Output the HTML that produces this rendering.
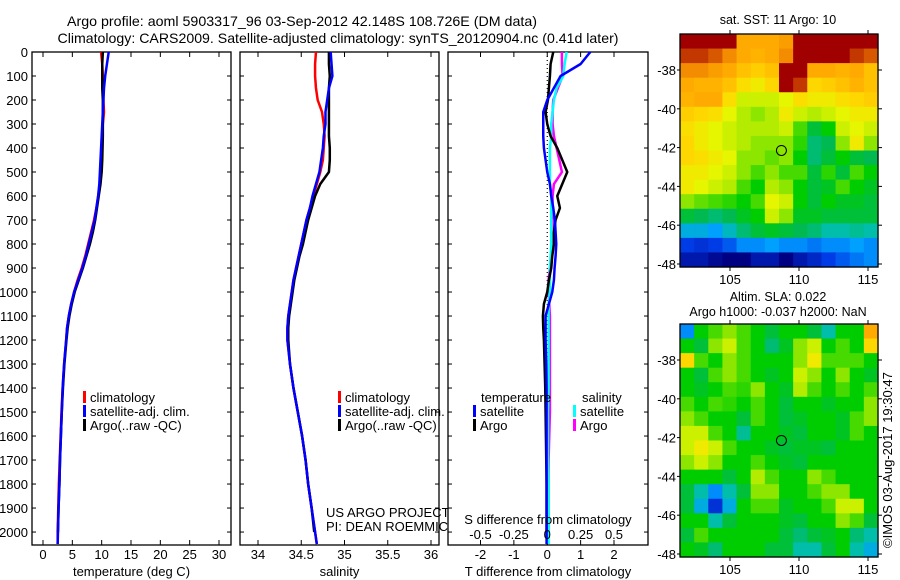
<!DOCTYPE html>
<html><head><meta charset="utf-8"><style>
html,body{margin:0;padding:0;background:#fff;}
svg{display:block;font-family:"Liberation Sans",sans-serif;}
text{font-size:13px;fill:#000;}
</style></head><body>
<svg id="fig" width="900" height="580" viewBox="0 0 900 580" xmlns="http://www.w3.org/2000/svg">
<text x="302" y="26" text-anchor="middle" style="font-size:14px" textLength="470" lengthAdjust="spacingAndGlyphs">Argo profile: aoml 5903317_96 03-Sep-2012 42.148S 108.726E (DM data)</text>
<text x="338" y="43" text-anchor="middle" style="font-size:14px" textLength="561" lengthAdjust="spacingAndGlyphs">Climatology: CARS2009. Satellite-adjusted climatology: synTS_20120904.nc (0.41d later)</text>
<g id="plots"></g>
<text transform="translate(892,548) rotate(-90)" style="font-size:13px">©IMOS 03-Aug-2017 19:30:47</text>
</svg>
<script>
// ---------- data ----------
const depths = [0,50,100,150,200,250,300,350,400,450,500,550,600,650,700,750,800,850,900,950,1000,1050,1100,1150,1200,1300,1400,1500,1600,1700,1800,1900,2000,2050];
const tempClim = [9.9,10.1,10.2,10.2,10.3,10.4,10.2,10.1,10.1,10.0,9.9,9.7,9.4,9.1,8.7,8.2,7.7,7.2,6.6,5.9,5.3,4.8,4.4,4.1,3.95,3.6,3.35,3.15,3.0,2.85,2.7,2.6,2.5,2.5];
const tempSat = [11.2,10.9,10.6,10.4,10.3,10.2,10.1,10.0,9.9,9.8,9.7,9.6,9.4,9.1,8.8,8.3,7.8,7.3,6.7,6.0,5.3,4.8,4.4,4.1,3.95,3.6,3.35,3.2,3.05,2.9,2.8,2.65,2.55,2.5];
const tempArgo = [10.2,10.1,10.1,10.1,10.2,10.2,10.2,10.2,10.15,10.1,10.0,9.8,9.5,9.2,8.9,8.5,8.0,7.4,6.8,6.1,5.4,4.9,4.5,4.2,4.0,3.65,3.4,3.2,3.05,2.9,2.8,2.65,2.55];
const salClim = [34.67,34.66,34.66,34.67,34.69,34.74,34.76,34.77,34.76,34.75,34.72,34.68,34.64,34.6,34.56,34.53,34.5,34.47,34.44,34.41,34.39,34.37,34.35,34.34,34.34,34.37,34.41,34.46,34.51,34.55,34.58,34.62,34.66,34.68];
const salSat = [34.84,34.85,34.86,34.82,34.8,34.78,34.78,34.76,34.75,34.73,34.71,34.67,34.63,34.6,34.56,34.53,34.5,34.47,34.44,34.41,34.39,34.37,34.35,34.34,34.34,34.37,34.41,34.46,34.51,34.55,34.58,34.62,34.66,34.68];
const salArgo = [34.82,34.82,34.83,34.82,34.82,34.82,34.82,34.82,34.83,34.83,34.82,34.72,34.66,34.62,34.58,34.55,34.52,34.48,34.45,34.42,34.40,34.38,34.36,34.35,34.35,34.37,34.41,34.46,34.51,34.55,34.58,34.62,34.65];
const tDiffSat = [1.29,1.0,0.4,0.2,0.0,-0.12,-0.12,-0.12,-0.1,-0.05,0.0,0.08,0.12,0.18,0.23,0.25,0.27,0.25,0.22,0.2,0.15,0.05,-0.05,-0.05,-0.05,-0.03,-0.02,-0.02,-0.02,-0.02,-0.02,-0.02,-0.02,-0.02];
const tDiffArgo = [0.18,0.1,0.08,0.05,0.02,-0.05,0.0,0.1,0.3,0.45,0.6,0.45,0.3,0.38,0.25,0.2,0.2,0.15,0.12,0.05,0.0,-0.1,-0.13,-0.12,-0.1,-0.08,-0.06,-0.05,-0.04,-0.03,-0.02,-0.02,-0.02];
const sDiffArgo = [0.11,0.11,0.115,0.08,0.045,0.04,0.04,0.05,0.07,0.09,0.11,0.05,0.04,0.04,0.05,0.05,0.04,0.03,0.02,0.01,0.01,0.015,0.02,0.02,0.02,0.02,0.02,0.02,0.015,0.01,0.01,0.01,0.01];
const sDiffSat = [0.145,0.13,0.12,0.07,0.05,0.04,0.03,0.03,0.02,0.02,0.02,0.02,0.03,0.03,0.03,0.03,0.03,0.025,0.02,0.02,0.02,0.01,0.01,0.01,0.01,0.01,0.01,0.005,0.005,0.005,0.01,0.01,0.01,0.01];
const depthTicks = [0,100,200,300,400,500,600,700,800,900,1000,1100,1200,1300,1400,1500,1600,1700,1800,1900,2000];
const tempTicks = [0,5,10,15,20,25,30];
const salTicks = [34,34.5,35,35.5,36];
const tDiffTicks = [-2,-1,0,1,2];
const sDiffTicks = [-0.5,-0.25,0,0.25,0.5];
const sDiffTickLabels = ["-0.5","-0.25","0","0.25","0.5"];
const lonTicks = [105,110,115];
const latTicks = [-38,-40,-42,-44,-46,-48];
const argoLon = 108.726, argoLat = -42.148;
const sstGrid = [
[1,1,1,1,0.8,0.8,0.8,0.82,1,1,1,1,1,1],
[0.95,0.95,0.92,0.85,0.8,0.78,0.8,0.85,1,1,1,1,0.95,0.92],
[0.85,0.85,0.82,0.8,0.75,0.72,0.75,1,1,0.8,0.8,0.78,0.8,0.75],
[0.8,0.78,0.78,0.75,0.68,0.65,0.7,1,0.95,0.7,0.72,0.75,0.78,0.75],
[0.78,0.8,0.8,0.68,0.6,0.6,0.6,0.62,0.68,0.65,0.65,0.68,0.7,0.72],
[0.72,0.7,0.68,0.62,0.58,0.55,0.58,0.65,0.6,0.58,0.6,0.62,0.65,0.65],
[0.68,0.65,0.62,0.6,0.58,0.58,0.58,0.6,0.5,0.4,0.45,0.6,0.62,0.6],
[0.7,0.65,0.62,0.6,0.58,0.55,0.55,0.55,0.48,0.35,0.38,0.55,0.65,0.55],
[0.7,0.68,0.65,0.62,0.55,0.55,0.52,0.55,0.45,0.35,0.4,0.45,0.4,0.38],
[0.65,0.65,0.62,0.6,0.55,0.5,0.55,0.5,0.5,0.4,0.48,0.4,0.5,0.45],
[0.65,0.62,0.6,0.58,0.5,0.45,0.58,0.55,0.45,0.4,0.42,0.5,0.45,0.42],
[0.55,0.52,0.5,0.48,0.45,0.5,0.62,0.6,0.45,0.4,0.45,0.42,0.42,0.4],
[0.4,0.38,0.35,0.38,0.42,0.45,0.6,0.55,0.42,0.42,0.4,0.4,0.4,0.4],
[0.25,0.25,0.22,0.28,0.35,0.4,0.42,0.4,0.38,0.35,0.3,0.3,0.32,0.3],
[0.12,0.1,0.12,0.15,0.2,0.2,0.22,0.2,0.2,0.18,0.2,0.2,0.22,0.2],
[0.05,0.05,0.02,0.0,0.0,0.05,0.05,0.0,0.05,0.08,0.12,0.15,0.18,0.2]];
const slaGrid = [
[0.2,0.45,0.5,0.55,0.5,0.45,0.4,0.45,0.45,0.4,0.3,0.45,0.45,0.8],
[0.45,0.4,0.55,0.6,0.5,0.45,0.35,0.42,0.55,0.6,0.45,0.5,0.45,0.7],
[0.7,0.5,0.45,0.55,0.5,0.45,0.45,0.45,0.55,0.65,0.5,0.5,0.5,0.45],
[0.45,0.4,0.5,0.55,0.5,0.45,0.42,0.45,0.6,0.55,0.45,0.55,0.45,0.42],
[0.45,0.42,0.45,0.5,0.48,0.55,0.45,0.42,0.58,0.5,0.45,0.5,0.45,0.5],
[0.5,0.45,0.5,0.48,0.45,0.5,0.45,0.4,0.45,0.45,0.42,0.45,0.45,0.55],
[0.55,0.5,0.45,0.45,0.4,0.5,0.45,0.4,0.42,0.45,0.45,0.42,0.5,0.55],
[0.6,0.6,0.5,0.45,0.32,0.45,0.45,0.42,0.4,0.45,0.45,0.42,0.5,0.45],
[0.6,0.65,0.6,0.5,0.45,0.45,0.42,0.4,0.42,0.42,0.4,0.45,0.45,0.45],
[0.55,0.6,0.55,0.45,0.45,0.5,0.45,0.42,0.4,0.45,0.45,0.45,0.45,0.45],
[0.45,0.45,0.45,0.4,0.45,0.58,0.5,0.45,0.45,0.55,0.5,0.45,0.45,0.45],
[0.4,0.3,0.2,0.3,0.4,0.55,0.55,0.45,0.45,0.5,0.55,0.55,0.45,0.45],
[0.4,0.25,0.1,0.25,0.45,0.5,0.5,0.42,0.45,0.45,0.5,0.6,0.6,0.45],
[0.45,0.45,0.3,0.4,0.45,0.45,0.45,0.42,0.4,0.45,0.45,0.55,0.5,0.4],
[0.4,0.5,0.45,0.45,0.45,0.45,0.45,0.4,0.35,0.4,0.42,0.45,0.35,0.3],
[0.45,0.42,0.35,0.45,0.45,0.45,0.4,0.4,0.3,0.3,0.4,0.45,0.3,0.25]];
const cmapStops = [0,0.12,0.22,0.3,0.38,0.45,0.55,0.62,0.7,0.8,0.9,1.0];
const cmapColors = [[0,0,130],[0,60,230],[0,160,255],[0,190,170],[0,185,80],[0,205,0],[140,230,0],[230,245,0],[255,215,0],[255,170,0],[230,110,0],[160,0,0]];

// ---------- helpers ----------
const NS = "http://www.w3.org/2000/svg";
const root = document.getElementById('plots');
function mk(tag, attrs, parent){ const e=document.createElementNS(NS,tag); for(const k in attrs) e.setAttribute(k,attrs[k]); (parent||root).appendChild(e); return e; }
function txt(x,y,s,anchor,parent,size){ const t=mk('text',{x:x,y:y,'text-anchor':anchor||'start'},parent); if(size) t.style.fontSize=size+'px'; t.textContent=s; return t; }
const PT=52, PB=545;
const yD = d => PT + (d/2054)*(PB-PT);
function lin(d0,d1,r0,r1){ return v => r0 + (v-d0)/(d1-d0)*(r1-r0); }
function pathFor(vals,xs){ return vals.map((v,i)=>(i?'L':'M')+xs(v).toFixed(2)+' '+yD(depths[i]).toFixed(2)).join(' '); }

function panel(name,x0,x1,xs,ticks,labels,xlabel,series,showDepth){
  const g=mk('g',{});
  
  
  const fr=mk('rect',{x:x0,y:PT,width:x1-x0,height:PB-PT,fill:'#fff',stroke:'#000','stroke-width':1.3},g);
  
  
  depthTicks.forEach(d=>{
    const y=yD(d);
    mk('line',{x1:x0,y1:y,x2:x0+4,y2:y,stroke:'#000'},g);
    mk('line',{x1:x1,y1:y,x2:x1-4,y2:y,stroke:'#000'},g);
    if(showDepth){ const t=txt(28,y+5,String(d),'end',g);   }
  });
  ticks.forEach((v,i)=>{
    const x=xs(v);
    mk('line',{x1:x,y1:PT,x2:x,y2:PT+5,stroke:'#000'},g);
    mk('line',{x1:x,y1:PB,x2:x,y2:PB-5,stroke:'#000'},g);
    const t=txt(x,559,labels[i],'middle',g);
    
    
  });
  const xl=txt((x0+x1)/2,576,xlabel,'middle',g);
  
  
  series.forEach(s=>{
    const e=mk('path',{d:pathFor(s.vals,xs),fill:'none',stroke:s.color,'stroke-width':2.5,'stroke-linejoin':'round'},g);
    
    
  });
  return g;
}
function legendEntry(g,x,y,color,label){
  if(color){ const b=mk('rect',{x:x,y:y-11,width:3,height:12,fill:color},g);
      }
  const t=txt(x+7,y,label,'start',g);
  
  
}

// Panel 1 temperature
const xT=lin(0,30,43,219);
const g1=panel('temperature-panel',32,231,xT,tempTicks,tempTicks.map(String),'temperature (deg C)',[
 {vals:tempClim,color:'#ff0000',name:'temp-climatology-line'},
 {vals:tempArgo,color:'#000000',name:'temp-argo-line'},
 {vals:tempSat,color:'#0000ff',name:'temp-satellite-line'}],true);
legendEntry(g1,83,402,'#ff0000','climatology');
legendEntry(g1,83,416,'#0000ff','satellite-adj. clim.');
legendEntry(g1,83,430,'#000000','Argo(..raw -QC)');

// Panel 2 salinity
const xS=lin(34,36,258,431);
const g2=panel('salinity-panel',240,439,xS,salTicks,salTicks.map(String),'salinity',[
 {vals:salClim,color:'#ff0000',name:'sal-climatology-line'},
 {vals:salArgo,color:'#000000',name:'sal-argo-line'},
 {vals:salSat,color:'#0000ff',name:'sal-satellite-line'}],false);
legendEntry(g2,338,402,'#ff0000','climatology');
legendEntry(g2,338,416,'#0000ff','satellite-adj. clim.');
legendEntry(g2,338,430,'#000000','Argo(..raw -QC)');
const pr1=txt(326,517,'US ARGO PROJECT','start',g2);  
const pr2=txt(326,531,'PI: DEAN ROEMMICH','start',g2);  

// Panel 3 differences
const xTD=lin(-2,2,480.5,614);
const xSD=v=>xTD(v*4);
const g3=panel('difference-panel',448,648,xTD,tDiffTicks,tDiffTicks.map(String),'T difference from climatology',[],false);
const zl=mk('line',{x1:xTD(0),y1:PT,x2:xTD(0),y2:PB,stroke:'#000','stroke-dasharray':'1,3','stroke-width':1.2},g3);
 
[{vals:sDiffArgo,color:'#ff00ff',name:'sdiff-argo-line',s:1},
 {vals:sDiffSat,color:'#00ffff',name:'sdiff-satellite-line',s:1},
 {vals:tDiffArgo,color:'#000000',name:'tdiff-argo-line',s:0},
 {vals:tDiffSat,color:'#0000ff',name:'tdiff-satellite-line',s:0}].forEach(s=>{
  const e=mk('path',{d:pathFor(s.vals,s.s?xSD:xTD),fill:'none',stroke:s.color,'stroke-width':2.5,'stroke-linejoin':'round'},g3);
  
  
});
const lt=txt(481,402,'temperature','start',g3);  
const ls=txt(582,402,'salinity','start',g3);  
legendEntry(g3,473,416,'#0000ff','satellite');
legendEntry(g3,473,430,'#000000','Argo');
legendEntry(g3,573,416,'#00ffff','satellite');
legendEntry(g3,573,430,'#ff00ff','Argo');
const st=txt(548,524,'S difference from climatology','middle',g3);  
sDiffTicks.forEach((v,i)=>{ const t=txt(xSD(v),539,sDiffTickLabels[i],'middle',g3);   });

// ---------- maps ----------
function cmap(v){
  v=Math.max(0,Math.min(1,v));
  let i=0; while(i<cmapStops.length-2 && v>cmapStops[i+1]) i++;
  const t=(v-cmapStops[i])/(cmapStops[i+1]-cmapStops[i]);
  const a=cmapColors[i], b=cmapColors[i+1];
  return 'rgb('+a.map((c,k)=>Math.round(c+(b[k]-c)*t)).join(',')+')';
}
const MX0=680, MX1=878;
const xLon=lin(105,115,730,868);
function map(name,y0,grid,titles,titleYs){
  const g=mk('g',{});
  
  
  const yLat=lin(-38,-48,y0+36,y0+230);
  const y1=y0+233;
  const rows=grid.length, cols=grid[0].length;
  const cw=(MX1-MX0)/cols, ch=(y1-y0)/rows;
  grid.forEach((row,r)=>row.forEach((v,c)=>{
    const cell=mk('rect',{x:MX0+c*cw,y:y0+r*ch,width:cw+0.6,height:ch+0.6,fill:cmap(v)},g);
    
    
  }));
  const fr=mk('rect',{x:MX0,y:y0,width:MX1-MX0,height:y1-y0,fill:'none',stroke:'#000','stroke-width':1.3},g);
   
  latTicks.forEach(l=>{ const y=yLat(l);
    mk('line',{x1:MX1,y1:y,x2:MX1+4,y2:y,stroke:'#000'},g);
    mk('line',{x1:MX0,y1:y,x2:MX0-3,y2:y,stroke:'#000'},g);
    const t=txt(676,y+5,String(l),'end',g);   });
  lonTicks.forEach(l=>{ const x=xLon(l);
    mk('line',{x1:x,y1:y0,x2:x,y2:y0-4,stroke:'#000'},g);
    mk('line',{x1:x,y1:y1,x2:x,y2:y1+4,stroke:'#000'},g);
    const t=txt(x,y1+17,String(l),'middle',g);   });
  const m=mk('circle',{cx:xLon(argoLon),cy:yLat(argoLat),r:5,fill:'none',stroke:'#000','stroke-width':1},g);
   
  titles.forEach((s,i)=>{ const t=txt(778,titleYs[i],s,'middle',g,12.5);   });
}
map('sst-map',34,sstGrid,['sat. SST: 11 Argo: 10'],[24]);
map('sla-map',324,slaGrid,['Altim. SLA: 0.022','Argo h1000: -0.037 h2000: NaN'],[301,316]);
</script>
</body></html>
